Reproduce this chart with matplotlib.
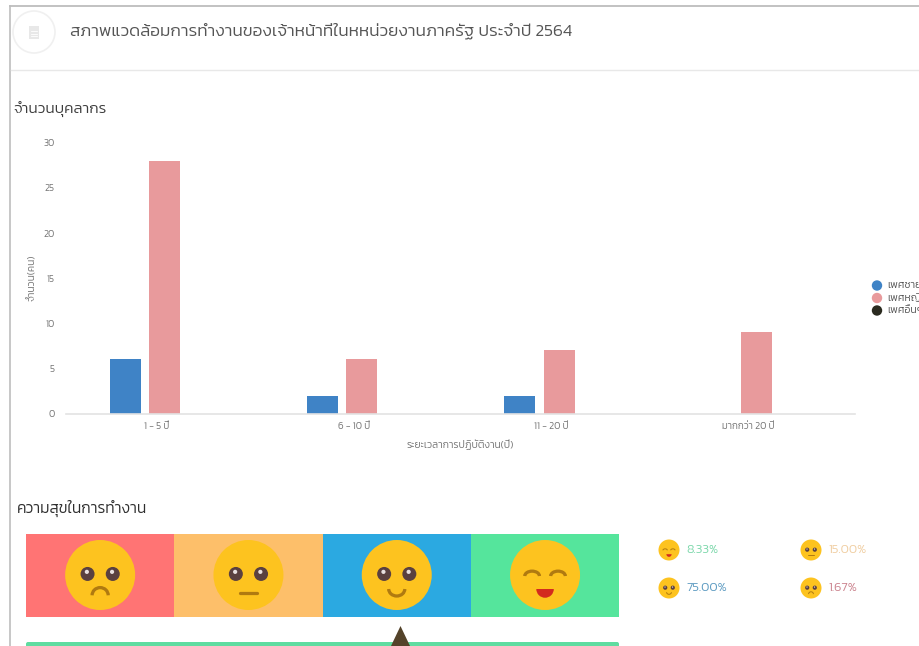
"""Staff work-environment dashboard: bar chart of staff by tenure, happiness band below."""
import logging

import matplotlib
matplotlib.use("Agg")
import matplotlib.pyplot as plt
from matplotlib.patches import Arc, Circle, FancyBboxPatch, Polygon, Rectangle, Wedge

logging.getLogger("matplotlib.font_manager").setLevel(logging.ERROR)

plt.rcParams["font.family"] = ["Kanit", "Prompt", "Mitr", "Sarabun", "Noto Sans Thai", "FreeSans", "DejaVu Sans"]
plt.rcParams["font.weight"] = 300
plt.rcParams["axes.labelweight"] = 300

TITLE = "สภาพแวดล้อมการทำงานของเจ้าหน้าที่ในหหน่วยงานภาครัฐ ประจำปี 2564"
CHART_TITLE = "จำนวนบุคลากร"
HAPPY_TITLE = "ความสุขในการทำงาน"

CATEGORIES = ["1 - 5 ปี", "6 - 10 ปี", "11 - 20 ปี", "มากกว่า 20 ปี"]
MALE = [6, 2, 2, 0]
FEMALE = [28, 6, 7, 9]
OTHER = [0, 0, 0, 0]
SERIES_NAMES = ["เพศชาย", "เพศหญิง", "เพศอื่นๆ"]
SERIES_COLORS = ["#3f83c6", "#e89a9c", "#2a2a1f"]

YTICKS = [0, 5, 10, 15, 20, 25, 30]
Y_LABEL = "จำนวน(คน)"
X_LABEL = "ระยะเวลาการปฏิบัติงาน(ปี)"

# happiness band, saddest to happiest
MOODS = ["sad", "flat", "smile", "joy"]
BAND_COLORS = ["#ff7474", "#fdbf6a", "#2ba9e1", "#55e59c"]
PERCENTS = ["8.33%", "15.00%", "75.00%", "1.67%"]
PERCENT_MOODS = ["joy", "flat", "smile", "sad"]
PERCENT_COLORS = ["#7ed8ac", "#f0cfa4", "#5f9cc2", "#cc8590"]

W, H = 920, 646
GREY = "#757575"
FACE = "#fdc31f"
EYE = "#5a4040"
MOUTH = "#b07a10"

fig = plt.figure(figsize=(W / 100, H / 100), dpi=100)

# page furniture and happiness widgets sit on an axes in reference pixels
page = fig.add_axes([0, 0, 1, 1])
page.set_xlim(0, W)
page.set_ylim(H, 0)
page.axis("off")

page.plot([10, W], [6, 6], color="#bdbdbd", lw=1.3)
page.plot([10.5, 10.5], [6, H], color="#bdbdbd", lw=1.2)
page.plot([11, W], [70, 70], color="#e8e8e8", lw=1.0)

page.add_patch(Circle((34, 32), 21, fc="white", ec="#f0f0f0", lw=1.2))
page.add_patch(Rectangle((29, 26), 10, 13, fc="#e8e8e8", ec="none"))
for ly in (31, 33.5, 36):
    page.plot([31, 37], [ly, ly], color="white", lw=0.6)

page.text(70, 31, TITLE, fontsize=12.4, color="#555555", va="center")
page.text(13, 109, CHART_TITLE, fontsize=11, color="#3c3c3c", va="center")
page.text(17, 508, HAPPY_TITLE, fontsize=11.2, color="#2e2e2e", va="center")


def draw_face(ax, cx, cy, r, mood):
    ax.add_patch(Circle((cx, cy), r, fc=FACE, ec="none", zorder=3))
    lw = r / 15
    if mood == "joy":
        for sx in (-1, 1):
            ax.add_patch(Arc((cx + sx * 0.37 * r, cy + 0.03 * r), 0.42 * r, 0.28 * r,
                             theta1=180, theta2=360, ec=MOUTH, lw=lw, zorder=4))
        ax.add_patch(Wedge((cx, cy + 0.4 * r), 0.25 * r, 0, 180, fc="#d32a1e", ec="none", zorder=4))
        return
    for sx in (-1, 1):
        ax.add_patch(Circle((cx + sx * 0.36 * r, cy - 0.03 * r), 0.2 * r, fc=EYE, ec="none", zorder=4))
        ax.add_patch(Circle((cx + sx * 0.36 * r - 0.02 * r, cy - 0.09 * r), 0.06 * r,
                            fc="#e8e0e0", ec="none", zorder=5))
    if mood == "smile":
        ax.add_patch(Arc((cx, cy + 0.4 * r), 0.46 * r, 0.4 * r, theta1=0, theta2=180,
                         ec=MOUTH, lw=lw, zorder=4))
    elif mood == "flat":
        ax.plot([cx - 0.24 * r, cx + 0.24 * r], [cy + 0.5 * r] * 2, color=MOUTH, lw=lw,
                solid_capstyle="round", zorder=4)
    else:
        ax.add_patch(Arc((cx, cy + 0.58 * r), 0.46 * r, 0.44 * r, theta1=180, theta2=360,
                         ec=MOUTH, lw=lw, zorder=4))


band_x = 26
band_w = 148.3
for i, (color, mood) in enumerate(zip(BAND_COLORS, MOODS)):
    page.add_patch(Rectangle((band_x + i * band_w, 534), band_w, 82.5, fc=color, ec="none"))
    draw_face(page, band_x + (i + 0.5) * band_w, 575, 35, mood)

page.add_patch(FancyBboxPatch((28, 644), 589, 6, boxstyle="round,pad=2", fc="#5fdca0", ec="none"))
page.add_patch(Polygon([(400.5, 626), (391, H), (410, H)], fc="#54432a", ec="none", zorder=3))

pct_x = [669, 811, 669, 811]
pct_y = [550, 550, 588, 588]
for x, y, label, mood, color in zip(pct_x, pct_y, PERCENTS, PERCENT_MOODS, PERCENT_COLORS):
    draw_face(page, x, y, 10.5, mood)
    page.text(x + 17, y, label, fontsize=9.2, color=color, va="center")

# bar chart, placed so the axis runs 66-855 px wide and 143-414 px tall
ax = fig.add_axes([66 / W, 1 - 413.7 / H, 789 / W, 271 / H])
ax.patch.set_alpha(0)
ax.set_xlim(-0.5, 3.5)
ax.set_ylim(0, 30)
offset = 0.2
width = 0.157
xs = range(len(CATEGORIES))
for j, (vals, color) in enumerate(zip([MALE, FEMALE, OTHER], SERIES_COLORS)):
    ax.bar([x + (j - 1) * offset for x in xs], vals, width=width, color=color, zorder=2)

for s in ("top", "right", "left"):
    ax.spines[s].set_visible(False)
ax.spines["bottom"].set_color("#e3e3e3")
ax.spines["bottom"].set_linewidth(1.2)
ax.set_yticks(YTICKS)
ax.set_xticks([x - 0.04 for x in xs])
ax.set_xticklabels(CATEGORIES)
ax.tick_params(axis="both", length=0, labelsize=7, labelcolor=GREY)
ax.tick_params(axis="y", pad=8)
ax.tick_params(axis="x", pad=6)
ax.set_xlabel(X_LABEL, fontsize=7.4, color=GREY)
ax.xaxis.set_label_coords((460 - 66) / 789, -0.095)
ax.set_ylabel(Y_LABEL, fontsize=7.4, color=GREY)
ax.yaxis.set_label_coords((36 - 66) / 789, (413 - 277) / 271)

for name, color, y in zip(SERIES_NAMES, SERIES_COLORS, [285.5, 298, 310.5]):
    page.add_patch(Circle((877, y), 5.2, fc=color, ec="none"))
    page.text(887, y, name, fontsize=7.6, color="#555555", va="center")

fig.savefig("out.png", dpi=100)
